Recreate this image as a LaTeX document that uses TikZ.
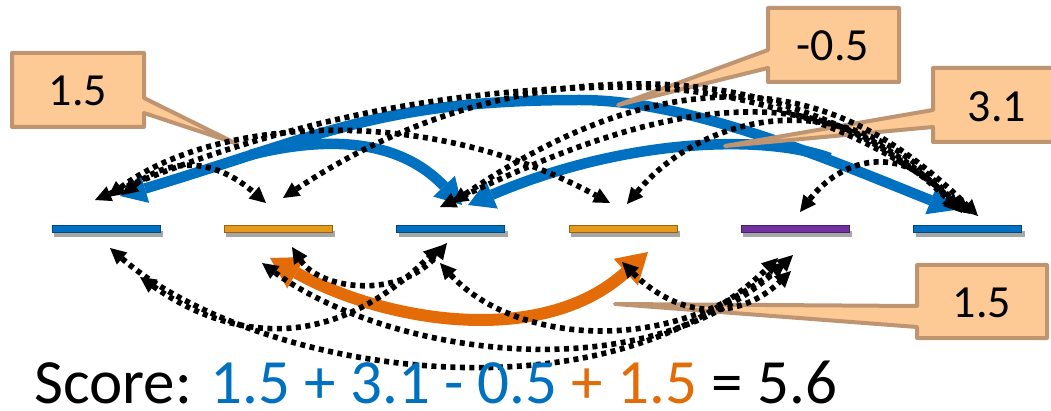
\documentclass[tikz,border=0pt]{standalone}
\usepackage{fontspec}
\setmainfont{Carlito}
\usetikzlibrary{arrows.meta}
\definecolor{sblue}{HTML}{0070C0}
\definecolor{sorange}{HTML}{E36C09}
\definecolor{barorange}{HTML}{E59A1B}
\definecolor{spurple}{HTML}{7030A0}
\definecolor{cfill}{HTML}{FDCA96}
\definecolor{cedge}{HTML}{BF9470}
\begin{document}
\begin{tikzpicture}[x=1pt,y=-1pt,
  wordbar/.style={draw=#1!65!black, line width=0.8pt, fill=#1, minimum width=108pt, minimum height=7pt, inner sep=0pt},
  barshadow/.style={fill=black, opacity=0.35},
  bluearc/.style={draw=sblue, line width=10.5pt},
  bluehead/.style={-{Triangle[length=26pt,width=30pt,line width=0pt]}},
  orangearc/.style={draw=sorange, line width=12pt,
     arrows={Triangle[length=30pt,width=36pt,line width=0pt]-Triangle[length=30pt,width=36pt,line width=0pt]}},
  dotarc/.style={draw=black, line width=5.6pt, dash pattern=on 5pt off 4.5pt,
     arrows={Triangle[length=16pt,width=16pt,line width=0pt]-Triangle[length=16pt,width=16pt,line width=0pt]}},
  callout/.style={draw=cedge, fill=cfill, line width=4pt, line join=round},
  calltext/.style={font=\fontsize{46}{50}\selectfont, inner sep=0pt},
]
\useasboundingbox (0,0) rectangle (1051,411);

% bar shadows
\foreach \cx in {106,278,450.5,623,795,967.5}{
  \fill[barshadow] (\cx-52,231) rectangle (\cx+57,237);
}
% word bars
\node[wordbar=sblue]      (b1) at (106,228.5) {};
\node[wordbar=barorange]  (b2) at (278,228.5) {};
\node[wordbar=sblue]      (b3) at (450.5,228.5) {};
\node[wordbar=barorange]  (b4) at (623,228.5) {};
\node[wordbar=spurple]    (b5) at (795,228.5) {};
\node[wordbar=sblue]      (b6) at (967.5,228.5) {};

% end points of the arcs
\coordinate (z1) at (120,196);
\coordinate (z6) at (955,210);
\coordinate (zx) at (250,155);
\coordinate (x3) at (462,205);
\coordinate (zy) at (830,158);
\coordinate (y3) at (468,205);
\coordinate (o2) at (270,258);
\coordinate (o4) at (648,252);

% blue arcs
\draw[bluearc, arrows={Triangle[length=26pt,width=30pt,line width=0pt]-Triangle[length=26pt,width=30pt,line width=0pt]}]
  (z1) .. controls (320,136) and (380,100) .. (580,100)
       .. controls (690,100) and (830,160) .. (z6);
\draw[bluearc, bluehead] (zx) .. controls (330,135) and (400,140) .. (x3);
\draw[bluearc, bluehead] (zy) .. controls (760,133) and (620,140) .. (y3);

% orange arc
\draw[orangearc] (o2) .. controls (380,320) and (540,350) .. (o4);

% callouts
\draw[callout] (12,53) -- (144,53) -- (144,98) -- (235,143) -- (144,113) -- (144,127) -- (12,127) -- cycle;
\node[calltext] (c1) at (78,91) {1.5};
\draw[callout] (768,8) -- (899,8) -- (899,82) -- (768,82) -- (768,68) -- (618,105) -- (768,50) -- cycle;
\node[calltext] (c2) at (833,46) {-0.5};
\draw[callout] (933,68) -- (1058,68) -- (1058,142) -- (933,142) -- (933,127) -- (725,146) -- (933,110) -- cycle;
\node[calltext] (c3) at (997,107) {3.1};
\draw[callout] (917,265) -- (1047,265) -- (1047,338) -- (917,338) -- (917,327) -- (615,304) -- (917,306) -- cycle;
\node[calltext] (c4) at (982,303) {1.5};

% dotted arcs above the words
\coordinate (t1a) at (95,200);   \coordinate (t1b) at (970,214);
\coordinate (t2a) at (108,197);  \coordinate (t2b) at (610,203);
\coordinate (t3a) at (122,195);  \coordinate (t3b) at (266,203);
\coordinate (t4a) at (283,198);  \coordinate (t4b) at (960,212);
\coordinate (t5a) at (452,203);  \coordinate (t5b) at (978,216);
\coordinate (t6a) at (440,207);  \coordinate (t6b) at (965,213);
\coordinate (t7a) at (627,204);  \coordinate (t7b) at (962,213);
\coordinate (t8a) at (800,212);  \coordinate (t8b) at (958,211);
\draw[dotarc] (t1a) .. controls (270,125) and (440,88) .. (620,87) .. controls (760,86) and (885,140) .. (t1b);
\draw[dotarc] (t2a) .. controls (210,120) and (420,100) .. (t2b);
\draw[dotarc] (t3a) .. controls (160,165) and (205,150) .. (t3b);
\draw[dotarc] (t4a) .. controls (400,120) and (520,82) .. (650,84) .. controls (780,86) and (890,140) .. (t4b);
\draw[dotarc] (t5a) .. controls (560,130) and (650,95) .. (740,97) .. controls (840,99) and (910,150) .. (t5b);
\draw[dotarc] (t6a) .. controls (560,150) and (660,110) .. (760,112) .. controls (850,114) and (910,160) .. (t6b);
\draw[dotarc] (t7a) .. controls (710,105) and (860,85) .. (t7b);
\draw[dotarc] (t8a) .. controls (840,160) and (900,140) .. (t8b);

% dotted arcs below the words
\coordinate (u1a) at (110,248);  \coordinate (u1b) at (778,258);
\coordinate (u2a) at (140,277);  \coordinate (u2b) at (440,246);
\coordinate (u3a) at (292,247);  \coordinate (u3b) at (447,243);
\coordinate (u4a) at (262,263);  \coordinate (u4b) at (793,255);
\coordinate (u5a) at (440,263);  \coordinate (u5b) at (786,262);
\coordinate (u6a) at (622,262);  \coordinate (u6b) at (791,271);
\draw[dotarc] (u1a) .. controls (250,370) and (600,430) .. (u1b);
\draw[dotarc] (u2a) .. controls (230,340) and (330,355) .. (u2b);
\draw[dotarc] (u3a) .. controls (320,290) and (400,300) .. (u3b);
\draw[dotarc] (u4a) .. controls (380,350) and (640,400) .. (u4b);
\draw[dotarc] (u5a) .. controls (510,340) and (660,360) .. (u5b);
\draw[dotarc] (u6a) .. controls (680,320) and (740,320) .. (u6b);

% score
\node[anchor=base west, inner sep=0pt, text depth=0pt, font=\fontsize{63}{70}\selectfont] (score) at (34,403)
  {Score: \textcolor{sblue}{1.5 + 3.1 - 0.5} \textcolor{sorange}{+ 1.5} = 5.6};
\end{tikzpicture}
\end{document}
